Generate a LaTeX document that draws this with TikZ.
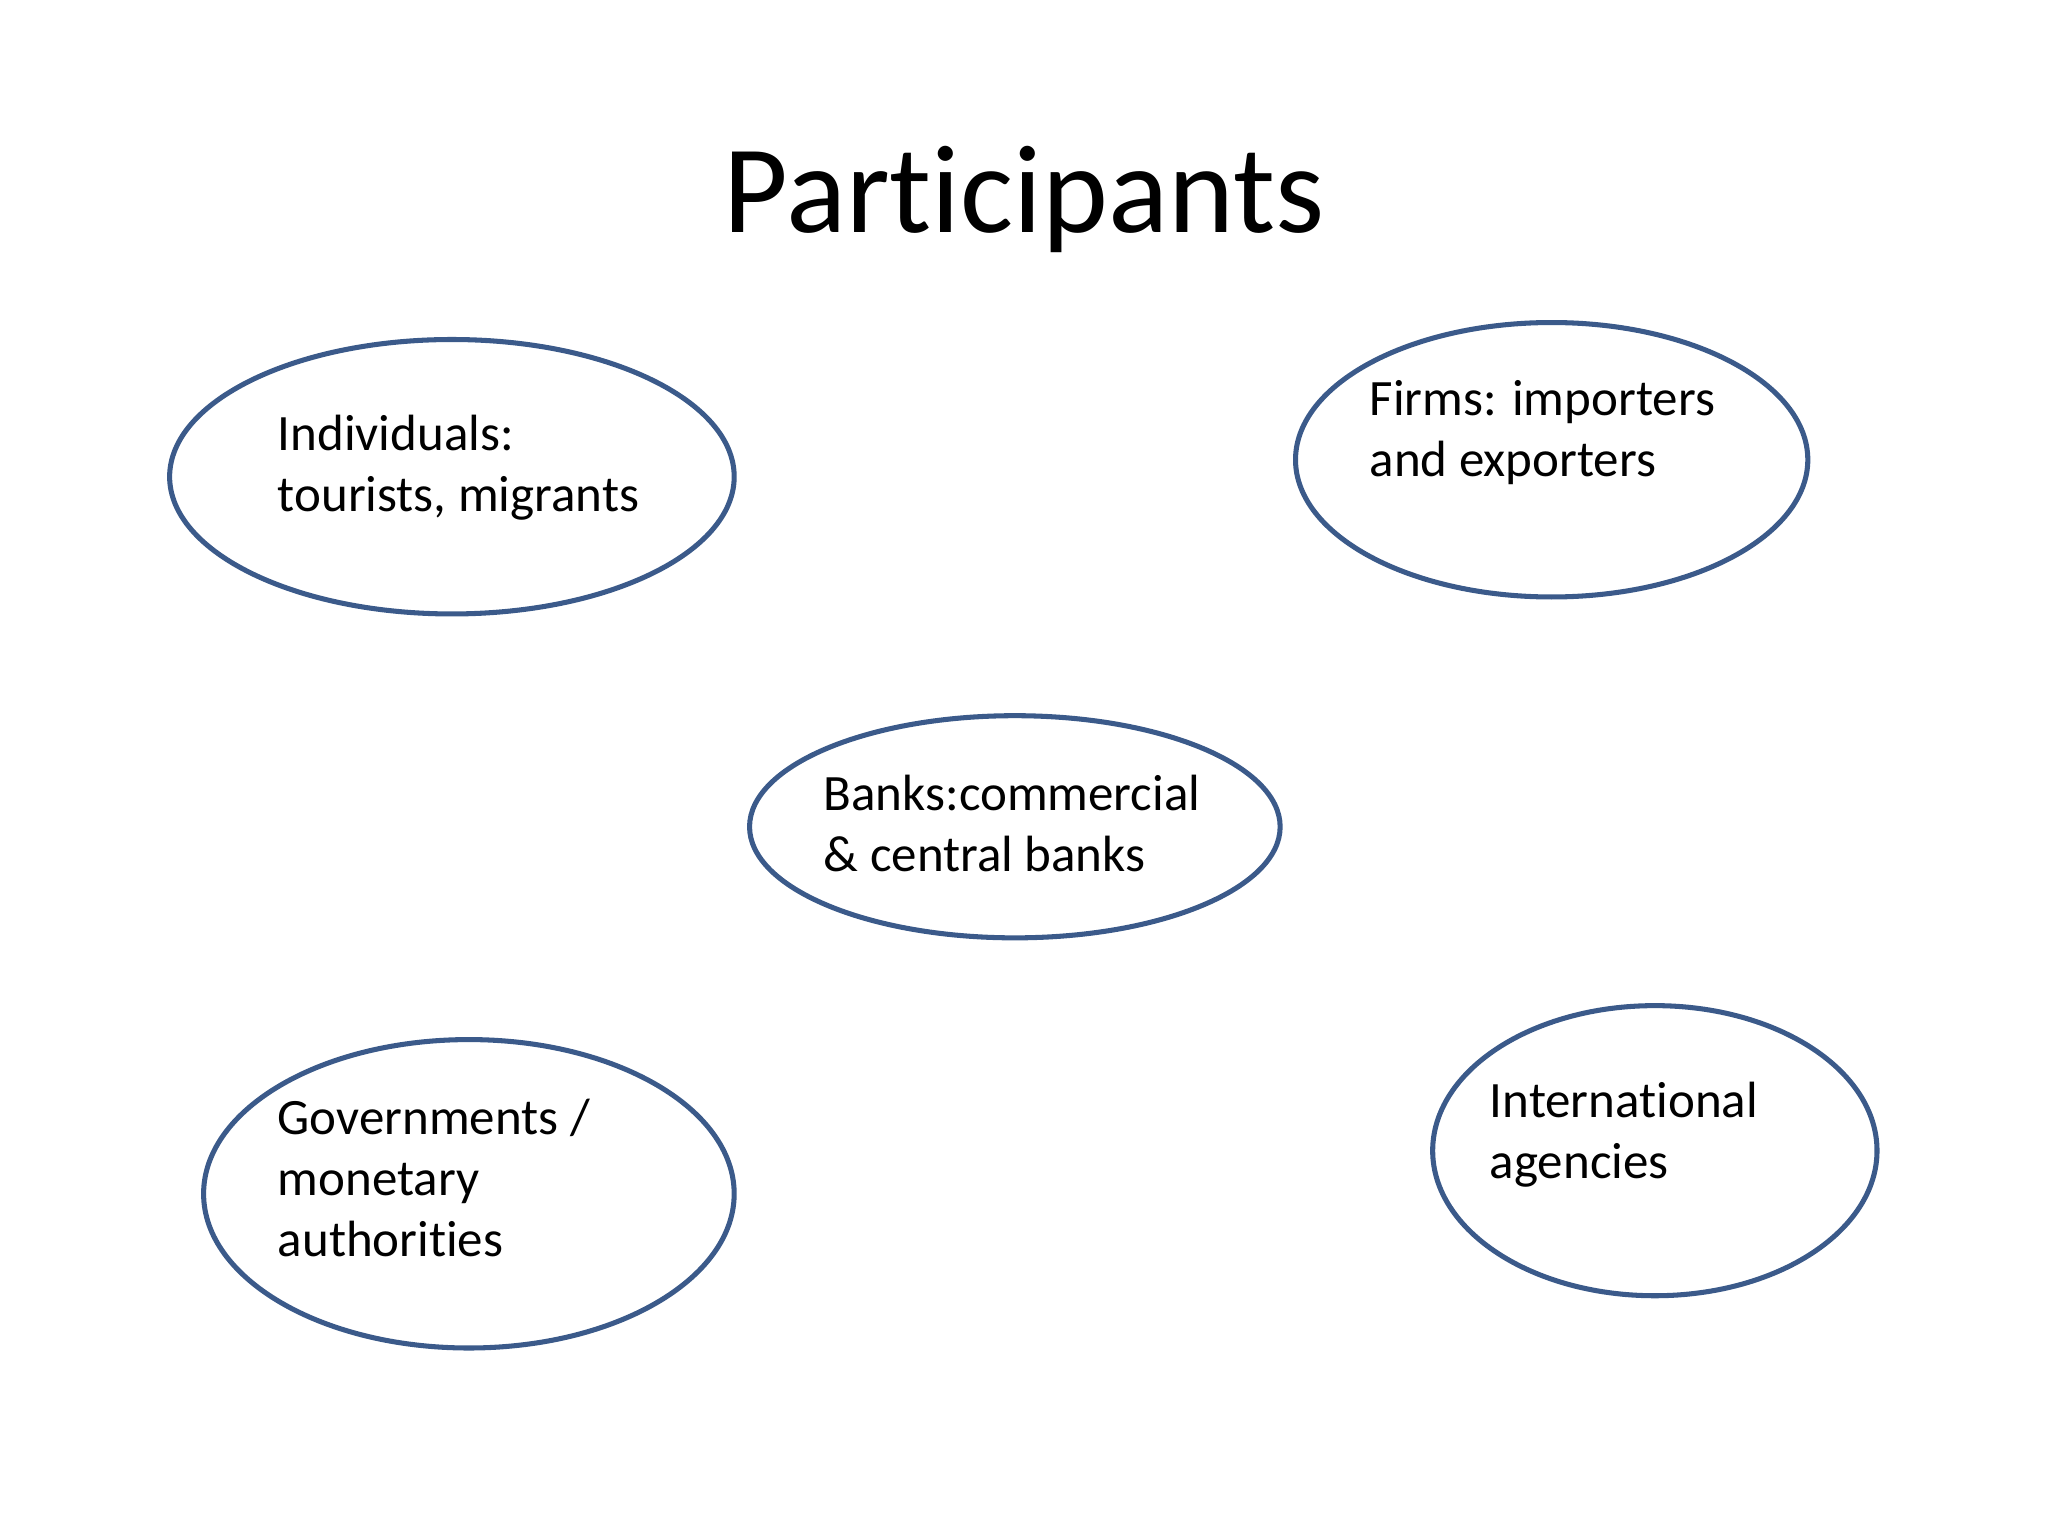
\documentclass[tikz,border=0pt]{standalone}
\usepackage{fontspec}
\setmainfont{Carlito}[RawFeature=-liga]
\usetikzlibrary{shapes.geometric}
\definecolor{ebl}{HTML}{3B5A8A}
\begin{document}
\begin{tikzpicture}[x=0.01cm,y=-0.01cm,
  oval/.style={draw=ebl,line width=1.1pt,ellipse,inner sep=0pt},
  lbl/.style={anchor=base west,inner sep=0pt,align=left,font=\fontsize{11.1pt}{13.3pt}\selectfont}]
\useasboundingbox (0,0) rectangle (1568,1176);
\node[anchor=base,inner sep=0pt,font=\fontsize{27.3pt}{32pt}\selectfont] (title) at (784,178) {Participants};
\node[oval,minimum width=4.32cm,minimum height=2.10cm] (e1) at (346,365) {};
\node[oval,minimum width=3.92cm,minimum height=2.10cm] (e2) at (1188,352) {};
\node[oval,minimum width=4.06cm,minimum height=1.70cm] (e3) at (777,633) {};
\node[oval,minimum width=4.06cm,minimum height=2.36cm] (e4) at (359,914) {};
\node[oval,minimum width=3.40cm,minimum height=2.22cm] (e5) at (1267,881) {};
\node[lbl] (t1) at (212,392) {Individuals:\\tourists, migrants};
\node[lbl] (t2) at (1048,365) {Firms: importers\\and exporters};
\node[lbl] (t3) at (630,667) {Banks:commercial\\\& central banks};
\node[lbl] (t4) at (212,962) {Governments /\\monetary\\authorities};
\node[lbl] (t5) at (1140,902) {International\\agencies};
\end{tikzpicture}
\end{document}
